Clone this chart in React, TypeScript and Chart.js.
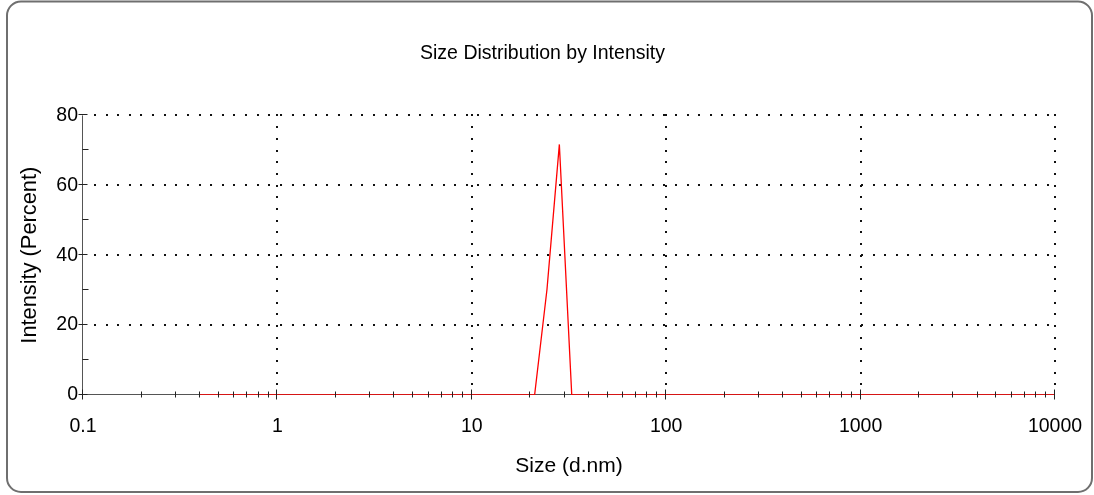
import React, { useEffect, useRef } from 'react';
import { Chart, registerables } from 'chart.js';

Chart.register(...registerables);

// Size bins (d.nm) as reported by the instrument
const SIZES = [
  0.4, 0.4632, 0.5365, 0.6213, 0.7195, 0.8332, 0.9649, 1.117, 1.294, 1.499,
  1.736, 2.01, 2.328, 2.696, 3.122, 3.615, 4.187, 4.849, 5.615, 6.503,
  7.531, 8.721, 10.1, 11.7, 13.54, 15.69, 18.17, 21.04, 24.36, 28.21,
  32.67, 37.84, 43.82, 50.75, 58.77, 68.06, 78.82, 91.28, 105.7, 122.4,
  141.8, 164.2, 190.1, 220.2, 255.0, 295.3, 342.0, 396.1, 458.7, 531.2,
  615.1, 712.4, 825.0, 955.4, 1106, 1281, 1484, 1718, 1990, 2305,
  2669, 3091, 3580, 4145, 4801, 5560, 6439, 7456, 8635, 10000,
];

// Intensity (%) per bin
const INTENSITY = [
  0, 0, 0, 0, 0, 0, 0, 0, 0, 0,
  0, 0, 0, 0, 0, 0, 0, 0, 0, 0,
  0, 0, 0, 0, 0, 0, 0, 0, 30.2, 71.7,
  0, 0, 0, 0, 0, 0, 0, 0, 0, 0,
  0, 0, 0, 0, 0, 0, 0, 0, 0, 0,
  0, 0, 0, 0, 0, 0, 0, 0, 0, 0,
  0, 0, 0, 0, 0, 0, 0, 0, 0, 0,
];

const X_TICKS = [0.1, 1, 10, 100, 1000, 10000];
const X_MINOR_STEPS = [2, 3, 4, 5, 6, 7, 8, 9];
const Y_TICKS = [0, 20, 40, 60, 80];
const Y_MINOR = [10, 30, 50, 70];

const FONT = "'Liberation Sans', Arial, sans-serif";

const decorPlugin = {
  id: 'decor',
  beforeDraw(chart: any) {
    const { ctx, width, height } = chart;
    ctx.save();
    ctx.fillStyle = '#ffffff';
    ctx.fillRect(0, 0, width, height);
    ctx.strokeStyle = '#6f6f6f';
    ctx.lineWidth = 2;
    ctx.beginPath();
    ctx.roundRect(7, 1.5, 1085, 490.5, 14);
    ctx.stroke();
    ctx.restore();
  },
  beforeDatasetsDraw(chart: any) {
    const { ctx, chartArea, scales } = chart;
    const { left, right, top, bottom } = chartArea;
    const xs = scales.x;
    const ys = scales.y;
    ctx.save();
    ctx.fillStyle = '#111111';
    // horizontal dotted grid lines
    Y_TICKS.forEach((v) => {
      if (v === 0) return;
      const py = Math.round(ys.getPixelForValue(v));
      for (let px = left + 12; px <= right + 1; px += 11.62) {
        ctx.fillRect(Math.round(px) - 1, py - 1, 2, 2);
      }
    });
    // vertical dotted grid lines
    X_TICKS.forEach((v, i) => {
      if (i === 0) return;
      const px = Math.round(xs.getPixelForValue(v));
      for (let py = top; py <= bottom - 6; py += 11.7) {
        ctx.fillRect(px - 1, Math.round(py) - 1, 2, 2);
      }
    });
    // axis lines
    ctx.strokeStyle = '#555555';
    ctx.lineWidth = 1;
    ctx.beginPath();
    ctx.moveTo(Math.round(left) - 0.5, top);
    ctx.lineTo(Math.round(left) - 0.5, bottom);
    ctx.moveTo(left, Math.round(bottom) - 0.5);
    ctx.lineTo(right, Math.round(bottom) - 0.5);
    ctx.stroke();
    ctx.restore();
  },
  afterDatasetsDraw(chart: any) {
    const { ctx, chartArea, scales } = chart;
    const { left, bottom } = chartArea;
    const xs = scales.x;
    const ys = scales.y;
    ctx.save();
    ctx.strokeStyle = '#222222';
    ctx.lineWidth = 1;
    ctx.beginPath();
    const lx = Math.round(left) - 0.5;
    Y_TICKS.forEach((v) => {
      const py = Math.round(ys.getPixelForValue(v)) - 0.5;
      ctx.moveTo(lx - 4, py);
      ctx.lineTo(lx + 5, py);
    });
    Y_MINOR.forEach((v) => {
      const py = Math.round(ys.getPixelForValue(v)) - 0.5;
      ctx.moveTo(lx, py);
      ctx.lineTo(lx + 6, py);
    });
    const by = Math.round(bottom) - 0.5;
    X_TICKS.forEach((v, i) => {
      const px = Math.round(xs.getPixelForValue(v)) - 0.5;
      ctx.moveTo(px, by - 5);
      ctx.lineTo(px, by + 5);
      if (i < X_TICKS.length - 1) {
        X_MINOR_STEPS.forEach((m) => {
          const qx = Math.round(xs.getPixelForValue(v * m)) - 0.5;
          ctx.moveTo(qx, by - 3);
          ctx.lineTo(qx, by + 3);
        });
      }
    });
    ctx.stroke();
    ctx.restore();
  },
};

export default function App() {
  const canvasRef = useRef<HTMLCanvasElement | null>(null);

  useEffect(() => {
    const canvas = canvasRef.current;
    if (!canvas) return;
    const chart = new Chart(canvas, {
      type: 'line',
      data: {
        datasets: [
          {
            label: 'Intensity',
            data: SIZES.map((s, i) => ({ x: s, y: INTENSITY[i] })),
            borderColor: '#ff0000',
            backgroundColor: '#ff0000',
            borderWidth: 1.3,
            pointRadius: 0,
            tension: 0,
            fill: false,
          },
        ],
      },
      options: {
        responsive: false,
        animation: false,
        layout: { padding: { left: 30, right: 39, top: 0, bottom: 0 } },
        plugins: {
          legend: { display: false },
          tooltip: { enabled: false },
          title: {
            display: true,
            text: 'Size Distribution by Intensity',
            color: '#000000',
            font: { family: FONT, size: 19.5, weight: 'normal' },
            padding: { top: 42, bottom: 50 },
          },
        },
        scales: {
          x: {
            type: 'logarithmic',
            min: 0.1,
            max: 10000,
            afterBuildTicks: (s: any) => {
              s.ticks = X_TICKS.map((v) => ({ value: v }));
            },
            afterFit: (s: any) => {
              s.height = 100;
              s.paddingLeft = 0;
              s.paddingRight = 0;
            },
            grid: { display: false, drawTicks: false, tickLength: 0 },
            border: { display: false },
            ticks: {
              autoSkip: false,
              maxRotation: 0,
              padding: 20,
              color: '#000000',
              font: { family: FONT, size: 19.5 },
              callback: (v: any) => String(v),
            },
            title: {
              display: true,
              text: 'Size (d.nm)',
              color: '#000000',
              font: { family: FONT, size: 21 },
              padding: { top: 0, bottom: 16 },
            },
          },
          y: {
            min: 0,
            max: 80,
            afterBuildTicks: (s: any) => {
              s.ticks = Y_TICKS.map((v) => ({ value: v }));
            },
            afterFit: (s: any) => {
              s.width = 53;
              s.paddingTop = 0;
              s.paddingBottom = 0;
            },
            grid: { display: false, drawTicks: false, tickLength: 0 },
            border: { display: false },
            ticks: {
              padding: 5,
              color: '#000000',
              font: { family: FONT, size: 19.5 },
            },
            title: {
              display: true,
              text: 'Intensity (Percent)',
              color: '#000000',
              font: { family: FONT, size: 21.8, lineHeight: 1 },
              padding: { top: -11, bottom: 0 },
            },
          },
        },
      },
      plugins: [decorPlugin],
    } as any);
    return () => chart.destroy();
  }, []);

  return (
    <div style={{ position: 'fixed', left: 0, top: 0, width: 1094, height: 495, background: '#fff' }}>
      <canvas ref={canvasRef} width={1094} height={495} style={{ width: 1094, height: 495, display: 'block' }} />
    </div>
  );
}
